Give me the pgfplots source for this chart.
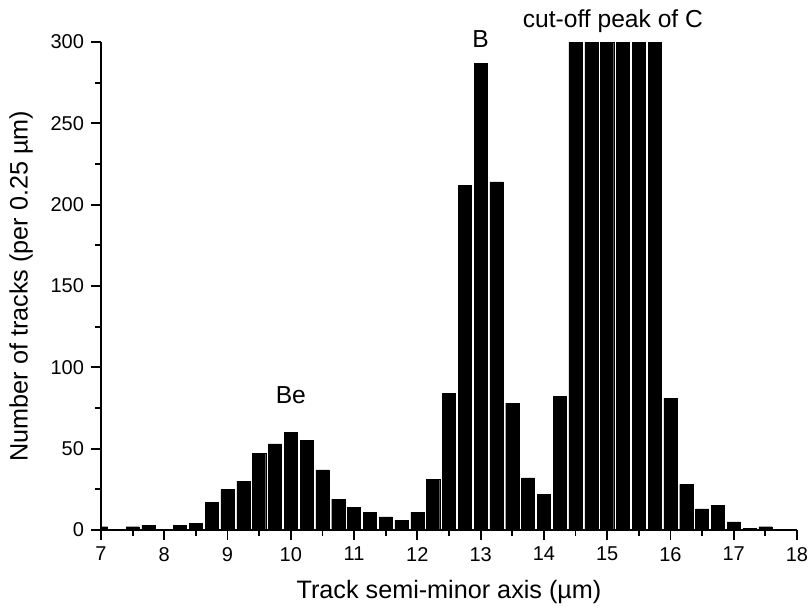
\documentclass[border=0pt]{standalone}
\usepackage{pgfplots}
\pgfplotsset{compat=1.18}
\usepackage{fontspec}
\setmainfont{Liberation Sans}

% Zaehlungen pro 0.25 um Klasse
\pgfplotstableread{
x      n
7.00   2
7.25   0
7.50   2
7.75   3
8.00   0
8.25   3
8.50   4
8.75   17
9.00   25
9.25   30
9.50   47
9.75   53
10.00  60
10.25  55
10.50  37
10.75  19
11.00  14
11.25  11
11.50  8
11.75  6
12.00  11
12.25  31
12.50  84
12.75  212
13.00  287
13.25  214
13.50  78
13.75  32
14.00  22
14.25  82
14.50  300
14.75  300
15.00  300
15.25  300
15.50  300
15.75  300
16.00  81
16.25  28
16.50  13
16.75  15
17.00  5
17.25  1
17.50  2
}\tracks

\begin{document}
\begin{tikzpicture}
\begin{axis}[
    at={(0,0)}, anchor=south west,
    width=348pt, height=244pt,
    scale only axis,
    xmin=7, xmax=18, ymin=0, ymax=300,
    axis x line=bottom, axis y line=left,
    axis line style={-, line width=0.9pt},
    xtick={7,...,18}, minor x tick num=1,
    ytick={0,50,...,300}, minor y tick num=1,
    tick align=outside,
    major tick length=5pt, minor tick length=3pt,
    every tick/.style={black, line width=0.9pt},
    tick label style={font=\fontsize{10}{12}\selectfont},
    /pgf/number format/assume math mode=true,
    label style={font=\fontsize{12.6}{14}\selectfont},
    xlabel={Track semi-minor axis (µm)},
    ylabel={Number of tracks (per 0.25 µm)},
    xlabel style={yshift=-2.5pt},
    ylabel style={yshift=2pt},
    clip mode=individual,
]
\addplot[ybar, bar width=6.55pt, fill=black, draw=black, line width=0.2pt] table[x=x, y=n] {\tracks};
\node[font=\fontsize{12.3}{14}\selectfont] at (axis cs:10,83) {Be};
\node[font=\fontsize{12.3}{14}\selectfont] at (axis cs:13,302) {B};
\node[font=\fontsize{12.3}{14}\selectfont] at (axis cs:15.09,313) {cut-off peak of C};
\end{axis}
\pgfresetboundingbox
\path[use as bounding box] (-50.5pt,-40.5pt) rectangle (355pt,265pt);
\end{tikzpicture}
\end{document}
